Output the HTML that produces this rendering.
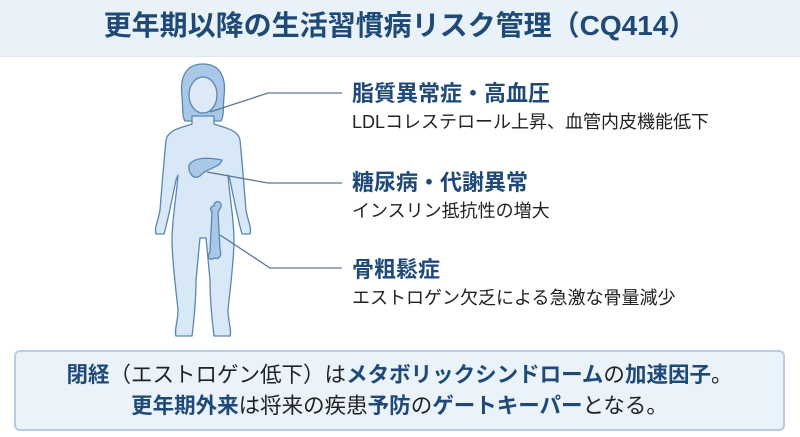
<!DOCTYPE html>
<html><head><meta charset="utf-8"><style>
body{margin:0;width:800px;height:437px;background:#fff;font-family:"Liberation Sans","Noto Sans CJK JP",sans-serif;position:relative;overflow:hidden}
.hdr{position:absolute;left:0;top:0;width:800px;height:56px;background:#e9f1f9;border-bottom:1px solid #dde7f1}
.title{position:absolute;left:0;width:800px;top:8px;text-align:center;font-size:28px;font-weight:bold;color:#1f4a78;line-height:36px}
.h{position:absolute;left:352px;font-size:22px;font-weight:bold;color:#1f4a78;line-height:26px}
.s{position:absolute;left:352px;font-size:18px;color:#222;line-height:22px}
.box{position:absolute;left:14px;top:350px;width:771px;height:81px;background:#eaf2fa;border:2px solid #b8cde3;border-radius:6px;box-sizing:border-box;text-align:center;font-size:21.5px;color:#222;line-height:31px;padding-top:8px;white-space:nowrap}
.box b{color:#1f4a78}
</style></head><body>
<div class="hdr"></div>
<div class="title">更年期以降の生活習慣病リスク管理（CQ414）</div>
<svg width="800" height="437" style="position:absolute;left:0;top:0">
<g stroke="#5b86b0" stroke-width="1.3" fill="#d9e8f6" stroke-linejoin="round">
<path d="M203 64 C184 64 180 80 182 96 C183 108 182 116 185 121 L221 121 C224 116 223 108 224 96 C226 80 222 64 203 64Z" fill="#a9c8e8"/>
<path d="M192 116 L192 124 C180 128 168 130 166 140 C164 160 162 185 160 210 C158 222 154 228 156 234 L164 234 C168 220 172 200 176 180 L178 175 C176 200 172 220 172 240 C172 260 176 290 178 310 C178 322 174 330 176 336 L192 336 C194 320 196 300 196 280 L200 238 L206 238 L210 280 C210 300 212 320 214 336 L230 336 C232 330 228 322 228 310 C230 290 234 260 234 240 C234 220 230 200 228 175 L230 180 C234 200 238 220 242 234 L250 234 C252 228 248 222 246 210 C244 185 242 160 240 140 C238 130 226 128 214 124 L214 116Z"/>
<ellipse cx="203" cy="95" rx="14" ry="18" fill="#dde9f6"/>
<path d="M189 165 C195 156 212 158 222 160 C220 168 206 168 200 176 C194 180 188 174 189 165Z" fill="#a9c8e8"/>
<path d="M214 206 C214 200 222 200 221 207 L218 212 L220 250 C222 254 220 260 214 258 C210 262 206 256 210 252 L212 212 C210 210 210 206 214 206Z" fill="#a9c8e8"/>
</g>
<g stroke="#5a7896" stroke-width="1.3" fill="none">
<polyline points="210,112 268,93 342,93"/>
<polyline points="207,172 268,183 342,183"/>
<polyline points="220,235 270,268 342,268"/>
</g>
</svg>
<div class="h" style="top:81px">脂質異常症・高血圧</div>
<div class="s" style="top:111px">LDLコレステロール上昇、血管内皮機能低下</div>
<div class="h" style="top:170px">糖尿病・代謝異常</div>
<div class="s" style="top:200px">インスリン抵抗性の増大</div>
<div class="h" style="top:257px">骨粗鬆症</div>
<div class="s" style="top:287px">エストロゲン欠乏による急激な骨量減少</div>
<div class="box"><b>閉経</b>（エストロゲン低下）は<b>メタボリックシンドローム</b>の<b>加速因子</b>。<br><b>更年期外来</b>は将来の疾患<b>予防</b>の<b>ゲートキーパー</b>となる。</div>
</body></html>
